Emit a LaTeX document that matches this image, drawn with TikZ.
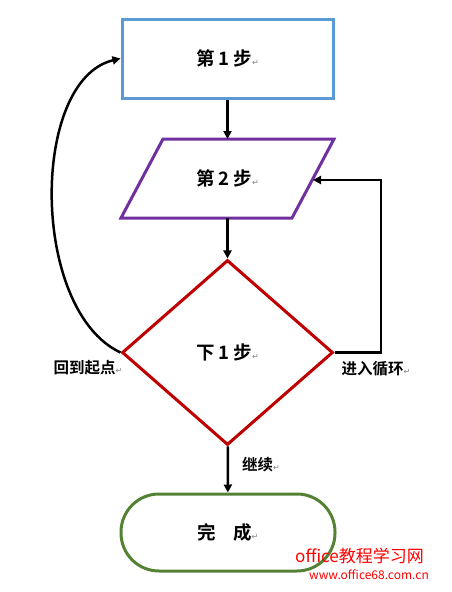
\documentclass[tikz,border=0pt]{standalone}
\usepackage{fontspec}
\setmainfont{Noto Sans CJK SC}[BoldFont={Noto Sans CJK SC Bold}]
\newfontfamily\symfont{DejaVu Sans}
\usetikzlibrary{arrows.meta,shapes.geometric,positioning}
\definecolor{boxblue}{RGB}{91,155,213}
\definecolor{parapurple}{RGB}{112,48,160}
\definecolor{diared}{RGB}{192,0,0}
\definecolor{endgreen}{RGB}{84,130,53}
\newcommand{\pmark}{{\symfont\fontsize{8}{8}\selectfont\mdseries\color{gray}↵}}

\begin{document}
\begin{tikzpicture}[x=1pt, y=-1pt,
  every node/.style={font=\bfseries\fontsize{15.5}{17}\selectfont, inner sep=0pt},
  shapebox/.style={draw, line width=3pt, font=\bfseries\fontsize{18.5}{20}\selectfont},
  arrow/.style={-{Triangle[length=8pt,width=8pt]}, line width=2.5pt}]
  \useasboundingbox (0,0) rectangle (452,592);

  \node[shapebox, draw=boxblue, rectangle, minimum width=211pt, minimum height=79pt] (s1) at (227.5,58.5) {第\hspace{4pt}1\hspace{4pt}步\pmark};

  % parallelogram
  \coordinate (p1) at (163,139);
  \coordinate (p2) at (334,139);
  \coordinate (p3) at (292,218);
  \coordinate (p4) at (121,218);
  \draw[shapebox, draw=parapurple, line join=miter] (p1) -- (p2) -- (p3) -- (p4) -- cycle;
  \node[font=\bfseries\fontsize{18.5}{20}\selectfont] (s2) at (227.5,178.5) {第\hspace{4pt}2\hspace{4pt}步\pmark};
  \coordinate (s2top) at (227.5,139);
  \coordinate (s2bot) at (227.5,218);
  \coordinate (s2right) at (313,180);

  \node[shapebox, draw=diared, diamond, minimum width=211pt, minimum height=185pt] (d) at (227.5,352.5) {下\hspace{4pt}1\hspace{4pt}步\pmark};
  \node[shapebox, draw=endgreen, rectangle, rounded corners=38pt, minimum width=214pt, minimum height=77pt] (e) at (228,532.5) {完\hspace{17pt}成\pmark};

  \draw[arrow] (s1) -- (s2top);
  \draw[arrow] (s2bot) -- (d);
  \draw[arrow] (d) -- (e);

  \coordinate (loop) at (381,352.5);
  \draw[arrow] (d.east) -- (loop) |- (s2right);
  \draw[arrow] (d.west) .. controls (30,310) and (30,80) .. (s1.west);

  \node (back) at (88,368) {回到起点\pmark};
  \node (enter) at (376,369) {进入循环\pmark};
  \node (cont) at (261,465) {继续\pmark};

  \node[text=red, anchor=west, font=\mdseries\fontsize{17}{19}\selectfont] (wm) at (295,556) {office教程学习网};
  \node[text=red, anchor=west, font=\mdseries\fontsize{12}{14}\selectfont] (url) at (309,575) {www.office68.com.cn};
\end{tikzpicture}
\end{document}
